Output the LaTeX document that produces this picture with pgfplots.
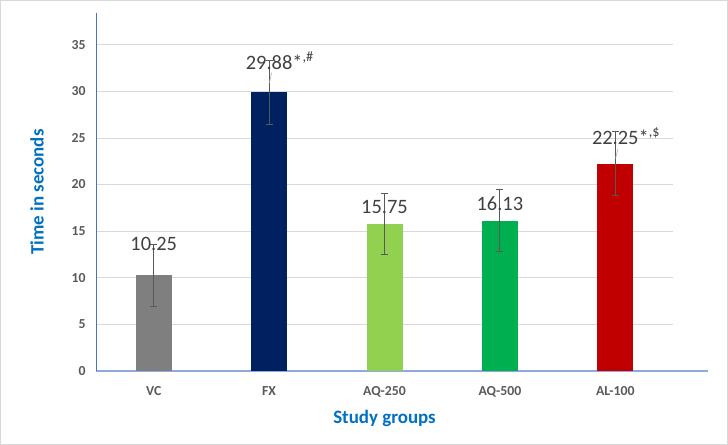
\documentclass[border=0pt]{standalone}
\usepackage{pgfplots}
\pgfplotsset{compat=1.18}
\usepackage{fontspec}
\setmainfont{Carlito}
\definecolor{gridc}{HTML}{D9D9D9}
\definecolor{tickc}{HTML}{595959}
\definecolor{titlec}{HTML}{0070C0}
\definecolor{labc}{HTML}{404040}
\definecolor{axc}{HTML}{4472C4}
\definecolor{xaxc}{HTML}{8FAADC}
\definecolor{cVC}{HTML}{7F7F7F}
\definecolor{cFX}{HTML}{002060}
\definecolor{cAQa}{HTML}{92D050}
\definecolor{cAQb}{HTML}{00B050}
\definecolor{cAL}{HTML}{C00000}
\definecolor{errc}{HTML}{595959}
\begin{document}
\begin{tikzpicture}
\useasboundingbox (0,0) rectangle (728bp,445bp);
\draw[gridc, line width=1bp] (0.5bp,0.5bp) rectangle (727.5bp,444.5bp);
\begin{axis}[
  at={(96bp,74bp)}, anchor=south west,
  scale only axis, width=577bp, height=358bp,
  xmin=-0.5, xmax=4.5, ymin=0, ymax=38.4,
  xtick={0,1,2,3,4},
  xticklabels={VC,FX,AQ-250,AQ-500,AL-100},
  ytick={0,5,...,35},
  ymajorgrids, grid style={gridc, line width=0.8bp},
  axis x line*=bottom, axis y line*=left,
  x axis line style={xaxc, line width=1.5bp, -},
  y axis line style={axc, line width=0.8bp, -},
  major tick length=0pt,
  tick label style={font=\fontsize{13.8}{16}\selectfont\bfseries, text=tickc},
  xticklabel style={yshift=-12bp},
  yticklabel style={xshift=-7bp},
  /pgf/number format/assume math mode=true,
  xlabel={Study groups}, ylabel={Time in seconds},
  label style={font=\fontsize{19}{22}\selectfont\bfseries, text=titlec},
  xlabel style={at={(axis description cs:0.5,0)}, anchor=center, yshift=-47bp},
  ylabel style={at={(axis description cs:0,0.5)}, anchor=center, rotate=0, xshift=0bp, yshift=59bp},
  ybar, bar width=36bp, bar shift=0pt,
  clip=false,
  error bars/y dir=both, error bars/y explicit,
  error bars/error bar style={errc, line width=1bp},
  error bars/error mark options={rotate=90, errc, mark size=3.5bp, line width=1bp},
]
\addplot[draw=none, fill=cVC] coordinates {(0,10.25) +- (0,3.3)};
\addplot[draw=none, fill=cFX] coordinates {(1,29.88) +- (0,3.4)};
\addplot[draw=none, fill=cAQa] coordinates {(2,15.75) +- (0,3.3)};
\addplot[draw=none, fill=cAQb] coordinates {(3,16.13) +- (0,3.35)};
\addplot[draw=none, fill=cAL] coordinates {(4,22.25) +- (0,3.4)};
\draw[xaxc, line width=1.5bp] (axis cs:4.5,0) -- (axis cs:4.8,0);
\draw[gray!60, line width=0.6bp] (axis cs:1.022,32.0) -- (axis cs:1.002,30.9);
\draw[gray!60, line width=0.6bp] (axis cs:4.022,23.8) -- (axis cs:4.002,22.8);
\begin{scope}[every node/.style={font=\fontsize{20.5}{24}\selectfont, text=labc, inner sep=0pt}]
\node at (axis cs:0,13.6) {10.25};
\node at (axis cs:1,33.3) {29.88\rlap{*\textsuperscript{,\#}}};
\node at (axis cs:2,17.6) {15.75};
\node at (axis cs:3,17.9) {16.13};
\node at (axis cs:4,25.2) {22.25\rlap{*\textsuperscript{,\$}}};
\end{scope}
\end{axis}
\end{tikzpicture}
\end{document}
